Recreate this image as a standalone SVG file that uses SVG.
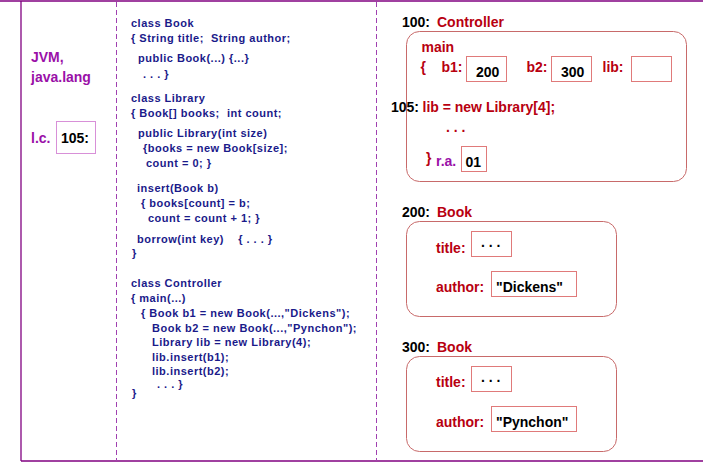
<svg xmlns="http://www.w3.org/2000/svg" width="703" height="463" viewBox="0 0 703 463">
<style>
text{font-family:"Liberation Sans",Arial,sans-serif;font-weight:bold}
.code{font-size:11px;fill:#1a1a8a;letter-spacing:0.5px;white-space:pre}
.lp{font-size:14px;fill:#9a10a8}
.rd{font-size:14px;fill:#b80010}
.bk{font-size:14px;fill:#000}
.pu{font-size:14px;fill:#9a10a8}
.frame{stroke:#800080;stroke-width:1.3;fill:none}
.dash{stroke:#a040b0;stroke-width:1;stroke-dasharray:5,3;fill:none}
.obj{fill:none;stroke:#c86a6a;stroke-width:1}
.cell{fill:#fff;stroke:#e07a7a;stroke-width:1}
.lcell{fill:#fff;stroke:#d890d8;stroke-width:1}
</style>
<rect width="703" height="463" fill="#fff"/>
<g id="frame">
<line class="frame" x1="0" y1="1" x2="703" y2="1"/>
<line class="frame" x1="21" y1="1" x2="21" y2="461"/>
<line class="frame" x1="21" y1="461" x2="703" y2="461"/>
<line class="dash" x1="116.5" y1="2" x2="116.5" y2="461"/>
<line class="dash" x1="376.5" y1="2" x2="376.5" y2="461"/>
</g>
<g id="jvm">
<text class="lp" x="31" y="62">JVM,</text>
<text class="lp" x="31" y="82">java.lang</text>
<text class="lp" x="31" y="143">l.c.</text>
<rect class="lcell" x="56.5" y="121.5" width="39" height="32"/>
<text class="bk" x="61" y="143">105:</text>
</g>
<g id="code">
<text class="code" x="131" y="26.5">class Book</text>
<text class="code" x="131" y="41.5">{ String title;  String author;</text>
<text class="code" x="138" y="61.5">public Book(...) {...}</text>
<text class="code" x="143" y="77.5">. . . }</text>
<text class="code" x="131" y="101.5">class Library</text>
<text class="code" x="131" y="116.5">{ Book[] books;  int count;</text>
<text class="code" x="138" y="136.5">public Library(int size)</text>
<text class="code" x="143" y="151.5">{books = new Book[size];</text>
<text class="code" x="146" y="166.5">count = 0; }</text>
<text class="code" x="137" y="192">insert(Book b)</text>
<text class="code" x="141" y="206.5">{ books[count] = b;</text>
<text class="code" x="148" y="221.5">count = count + 1; }</text>
<text class="code" x="137" y="242.5">borrow(int key)    { . . . }</text>
<text class="code" x="132" y="256.5">}</text>
<text class="code" x="131" y="286.5">class Controller</text>
<text class="code" x="131" y="301.5">{ main(...)</text>
<text class="code" x="141" y="316.5">{ Book b1 = new Book(...,"Dickens");</text>
<text class="code" x="152" y="331.5">Book b2 = new Book(...,"Pynchon");</text>
<text class="code" x="152" y="346">Library lib = new Library(4);</text>
<text class="code" x="152" y="360.5">lib.insert(b1);</text>
<text class="code" x="152" y="375">lib.insert(b2);</text>
<text class="code" x="157" y="388">. . . }</text>
<text class="code" x="132" y="397">}</text>
</g>
<g id="controller">
<text class="bk" x="402" y="26.5">100:</text>
<text class="rd" x="437" y="26.5">Controller</text>
<rect class="obj" x="406.5" y="31.5" width="280" height="150" rx="13"/>
<text class="rd" x="421.5" y="51.5">main</text>
<text class="rd" x="420.5" y="71.5">{</text>
<text class="rd" x="441.5" y="71.5">b1:</text>
<rect class="cell" x="466.5" y="56.5" width="40" height="25"/>
<text class="bk" x="476" y="77">200</text>
<text class="rd" x="526.5" y="71.5">b2:</text>
<rect class="cell" x="551.5" y="56.5" width="40" height="25"/>
<text class="bk" x="561" y="77">300</text>
<text class="rd" x="602.5" y="71.5">lib:</text>
<rect class="cell" x="631.5" y="56.5" width="40" height="25"/>
<text class="bk" x="391" y="111.5">105:</text>
<text class="rd" x="422.5" y="111.5">lib = new Library[4];</text>
<text class="rd" x="446" y="131.5">. . .</text>
<text class="rd" x="426" y="163">}</text>
<text class="pu" x="436" y="165.5">r.a.</text>
<rect class="cell" x="461.5" y="146.5" width="25" height="25"/>
<text class="bk" x="465.5" y="166.5">01</text>
</g>
<g id="book200">
<text class="bk" x="402" y="216.5">200:</text>
<text class="rd" x="437" y="216.5">Book</text>
<rect class="obj" x="406.5" y="221.5" width="210" height="95" rx="13"/>
<text class="rd" x="436" y="252.5">title:</text>
<rect class="cell" x="471.5" y="231.5" width="40" height="25"/>
<text class="bk" x="481" y="247">. . .</text>
<text class="rd" x="436" y="291.5">author:</text>
<rect class="cell" x="491.5" y="271.5" width="85" height="25"/>
<text class="bk" x="496" y="291.5">"Dickens"</text>
</g>
<g id="book300">
<text class="bk" x="402" y="351.5">300:</text>
<text class="rd" x="437" y="351.5">Book</text>
<rect class="obj" x="406.5" y="356.5" width="210" height="95" rx="13"/>
<text class="rd" x="436" y="386.5">title:</text>
<rect class="cell" x="471.5" y="366.5" width="40" height="25"/>
<text class="bk" x="481" y="382">. . .</text>
<text class="rd" x="436" y="426.5">author:</text>
<rect class="cell" x="491.5" y="406.5" width="85" height="25"/>
<text class="bk" x="496" y="426.5">"Pynchon"</text>
</g>
</svg>
